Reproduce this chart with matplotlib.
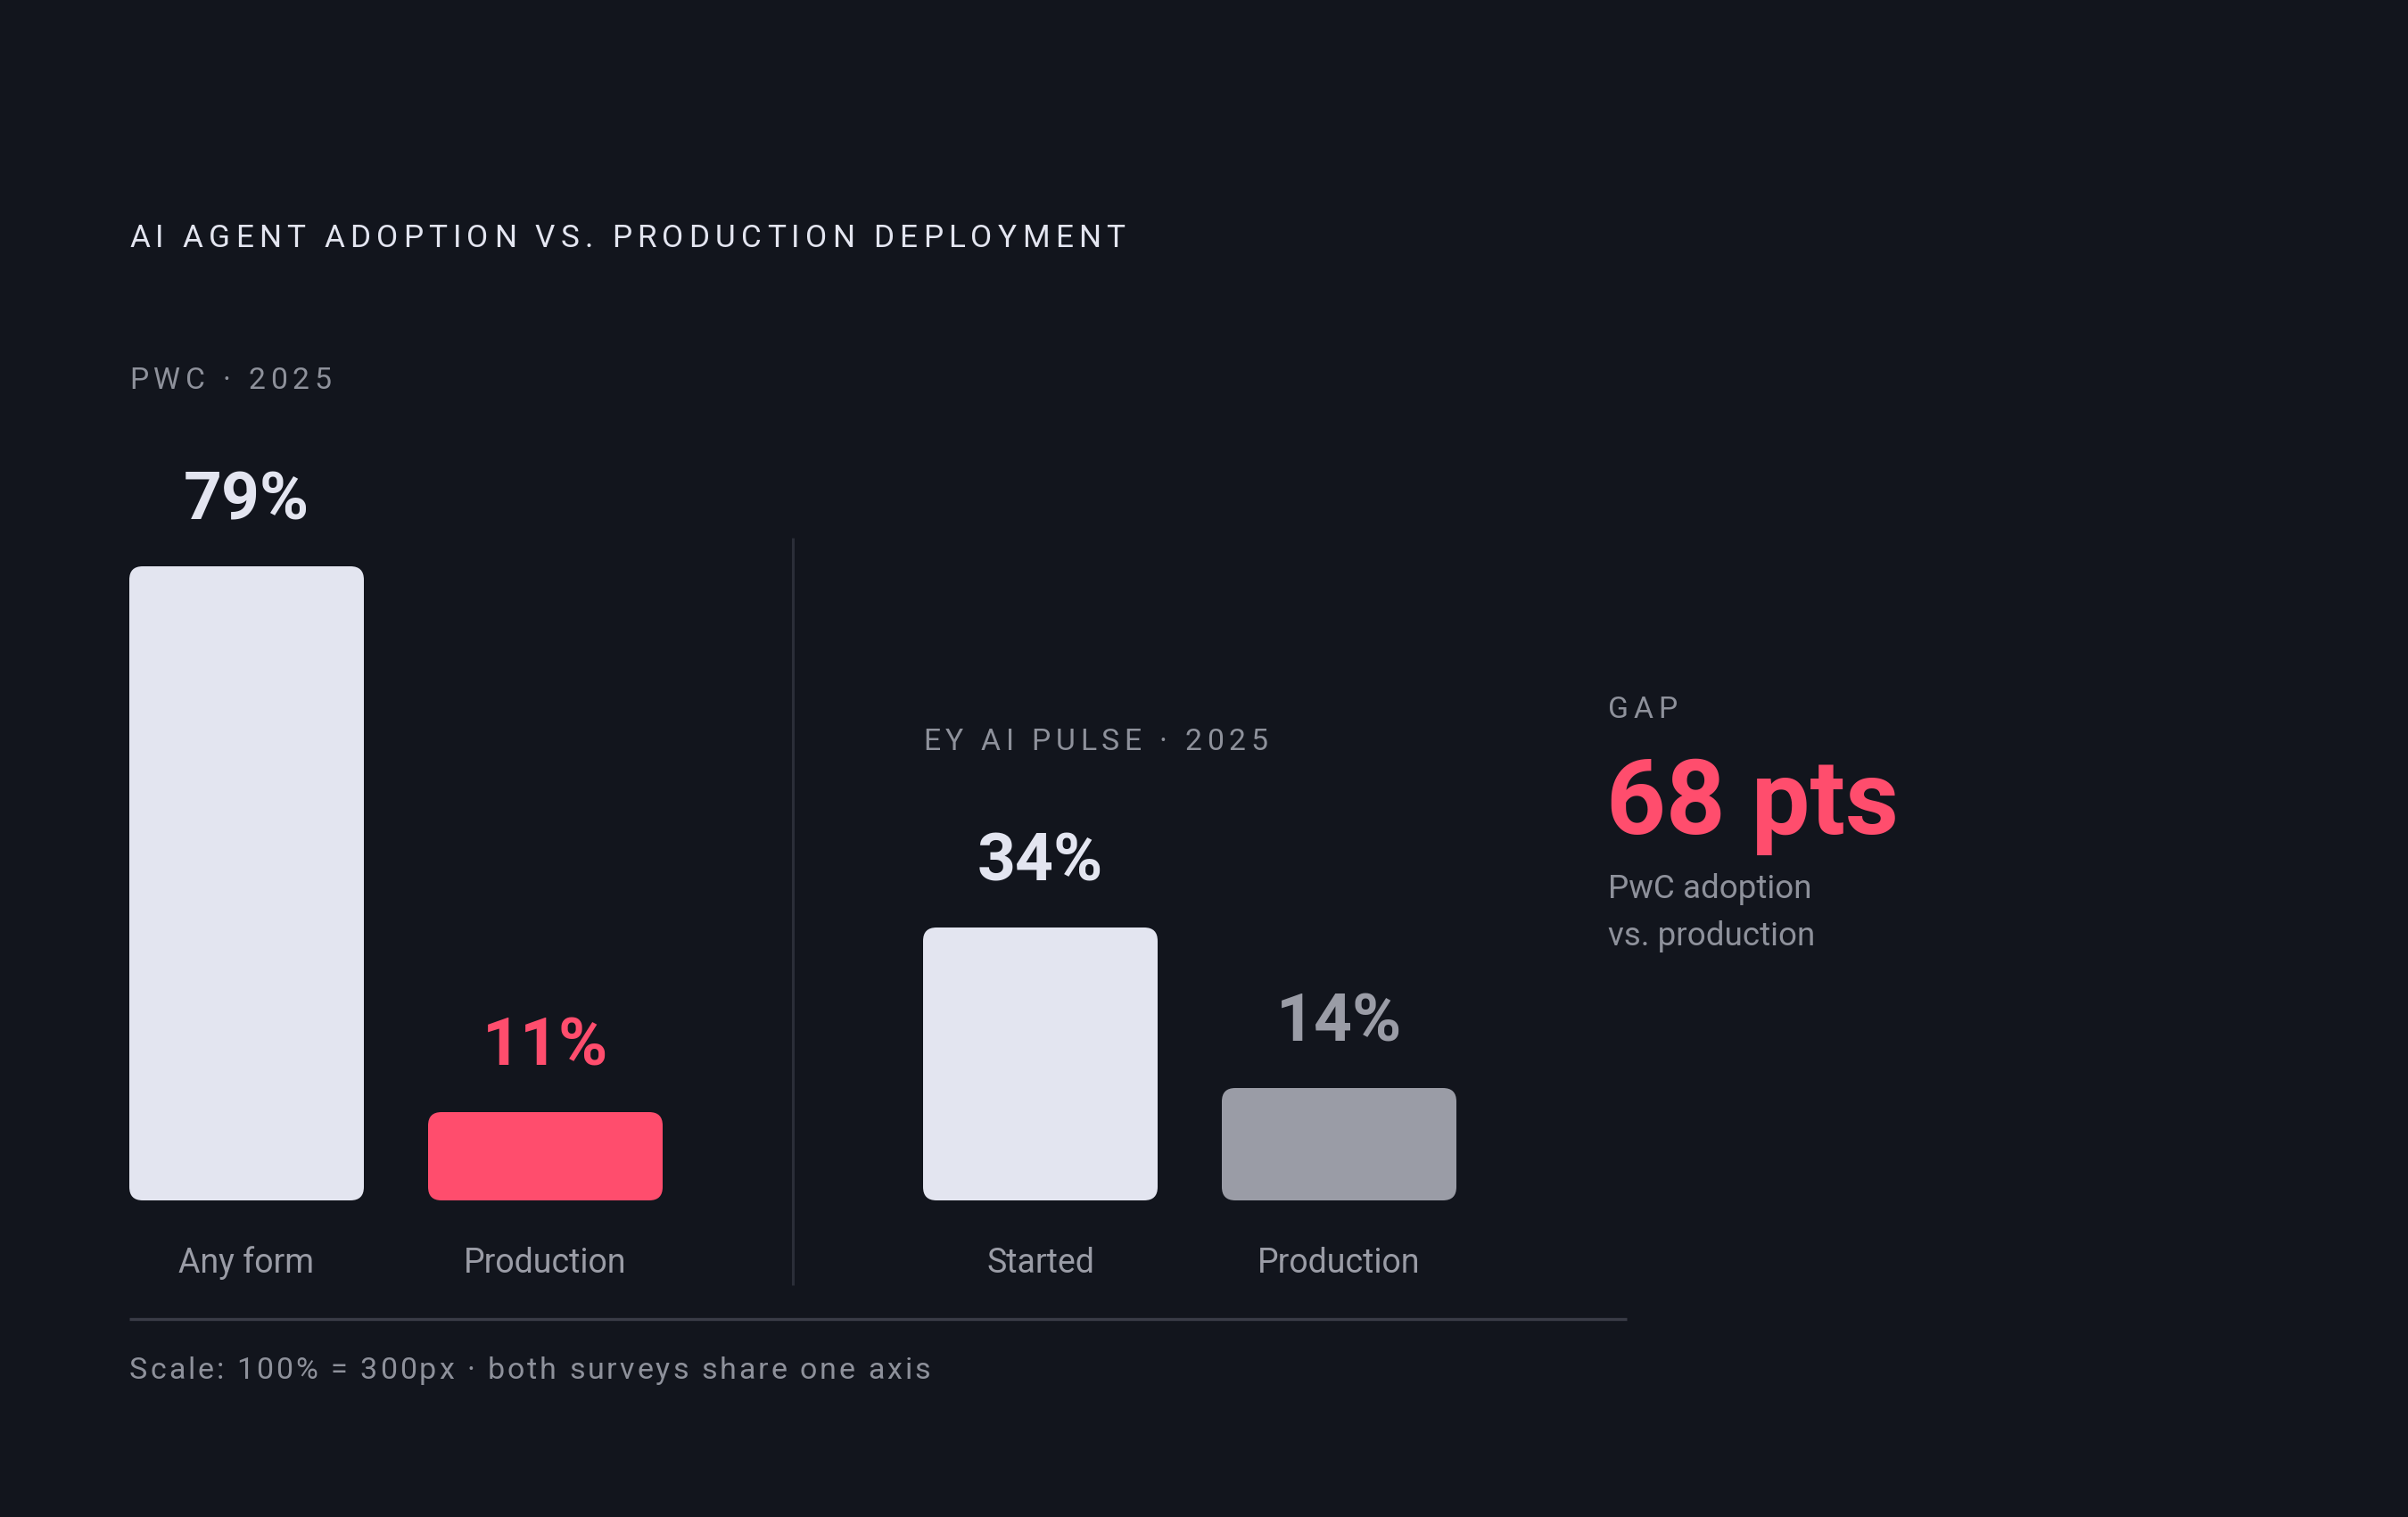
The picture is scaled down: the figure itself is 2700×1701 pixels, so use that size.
import matplotlib
matplotlib.use("Agg")
import matplotlib.pyplot as plt
from matplotlib.patches import FancyBboxPatch
from matplotlib.font_manager import FontProperties, findfont, get_font

try:
    from matplotlib.ft2font import LoadFlags
    NO_HINT = LoadFlags.NO_HINTING
except ImportError:
    from matplotlib.ft2font import LOAD_NO_HINTING as NO_HINT

# --- data -------------------------------------------------------------
groups = ["PWC · 2025", "EY AI PULSE · 2025"]
categories = ["Any form", "Production", "Started", "Production"]
values = [79, 11, 34, 14]
gap_label = "GAP"
gap_note = ["PwC adoption", "vs. production"]
title = "AI AGENT ADOPTION VS. PRODUCTION DEPLOYMENT"
footer = "Scale: 100% = 300px · both surveys share one axis"

# --- style ------------------------------------------------------------
BG = "#12151d"
WHITE = "#e3e5f0"
RED = "#ff4d6d"
GREY = "#9a9ca6"
MUTED = "#8e919b"
FONT = "Roboto"
DPI = 100
W, H = 2700, 1701

bar_colors = [WHITE, RED, WHITE, GREY]
label_colors = [WHITE, RED, WHITE, GREY]

# layout in pixels
BASE_Y = 1346          # bar baseline
PX_PER_PCT = 9         # 100% = 900 px
LEFT = 145
BAR_W = 263
INNER = 72
GROUP_STEP = 890

fig = plt.figure(figsize=(W / DPI, H / DPI), dpi=DPI, facecolor=BG)

# overlay axes in pixel coordinates for text and rules
ax_txt = fig.add_axes([0, 0, 1, 1], facecolor="none")
ax_txt.set_xlim(0, W)
ax_txt.set_ylim(H, 0)
ax_txt.axis("off")

# bar axes: x in pixels, y in percent
ax = fig.add_axes([0, 0, 1, 1], facecolor="none")
ax.set_xlim(0, W)
ax.set_ylim(-(H - BASE_Y) / PX_PER_PCT, BASE_Y / PX_PER_PCT)
ax.axis("off")


def advances(s, size, weight="normal"):
    """Per-char advance widths in pixels."""
    prop = FontProperties(family=FONT, weight=weight, size=size)
    font = get_font(findfont(prop))
    font.set_size(size, DPI)
    return [font.load_char(ord(ch), flags=NO_HINT).linearHoriAdvance / 65536
            for ch in s]


def tracked(x, y, s, size, color, width=None, tracking=0.0, weight="normal"):
    """Draw letter-spaced text, optionally fitted to a target width."""
    adv = advances(s, size, weight)
    if width is not None and len(s) > 1:
        tracking = (width - sum(adv)) / (len(s) - 1)
    for ch, a in zip(s, adv):
        if ch != " ":
            ax_txt.text(x, y, ch, fontsize=size, color=color,
                        family=FONT, weight=weight, ha="left", va="baseline")
        x += a + tracking


# title and group labels
tracked(LEFT, 277, title, 25.3, WHITE, width=1116)
tracked(LEFT, 436, groups[0], 24.3, MUTED, width=226)
tracked(LEFT + GROUP_STEP, 841, groups[1], 24.3, MUTED, width=386)

# bars
centers = []
for i, (v, c) in enumerate(zip(values, bar_colors)):
    g, k = divmod(i, 2)
    x0 = LEFT + g * GROUP_STEP + k * (BAR_W + INNER)
    centers.append(x0 + BAR_W / 2)
    bar = FancyBboxPatch((x0, 0), BAR_W, v,
                         boxstyle="round,pad=0,rounding_size=15",
                         mutation_aspect=1 / PX_PER_PCT,
                         facecolor=c, edgecolor="none")
    ax.add_patch(bar)

for cx, v, cat, lc in zip(centers, values, categories, label_colors):
    ax.annotate(f"{v}%", xy=(cx, v), xytext=(0, 53), textcoords="offset pixels",
                ha="center", va="baseline", fontsize=54, weight="bold",
                color=lc, family=FONT)
    ax.annotate(cat, xy=(cx, 0), xytext=(0, -81), textcoords="offset pixels",
                ha="center", va="baseline", fontsize=27, color=GREY, family=FONT)

# divider and bottom rule
ax_txt.plot([889, 889], [603, 1441], color="#2b2e38", lw=2.2, solid_capstyle="butt")
ax_txt.plot([LEFT, 1824], [1479, 1479], color="#3a3c47", lw=2.4, solid_capstyle="butt")

# gap callout
gap = values[0] - values[1]
tracked(1803, 805, gap_label, 24.3, MUTED, width=78)
ax_txt.text(1801, 935, f"{gap} pts", fontsize=84, weight="bold", color=RED,
            family=FONT, ha="left", va="baseline")
ax_txt.text(1803, 1007, gap_note[0], fontsize=26.5, color=MUTED, family=FONT,
            ha="left", va="baseline")
ax_txt.text(1803, 1060, gap_note[1], fontsize=26.5, color=MUTED, family=FONT,
            ha="left", va="baseline")

# footer
tracked(LEFT, 1546, footer, 24.5, MUTED, width=898)

fig.savefig("out.png", dpi=DPI, facecolor=BG)
